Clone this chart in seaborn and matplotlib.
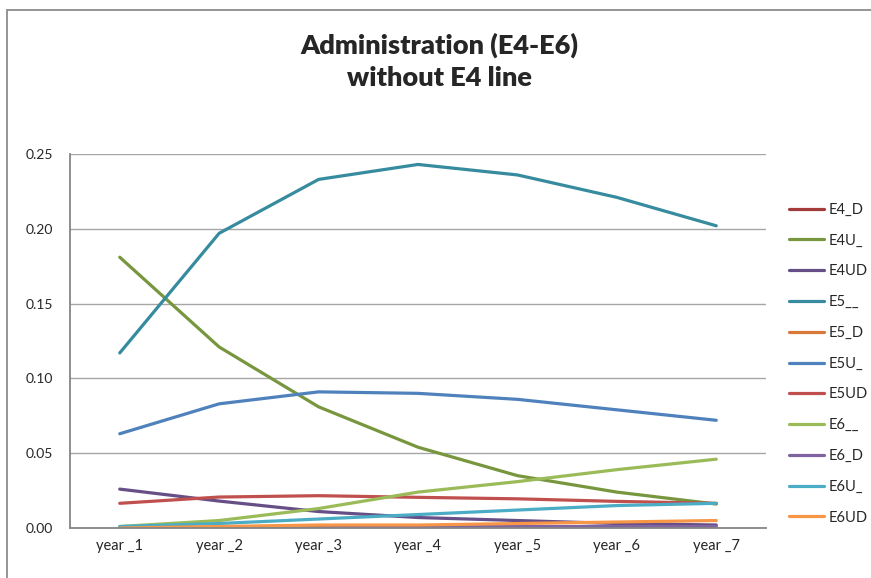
import matplotlib
matplotlib.use("Agg")
import matplotlib.pyplot as plt
import seaborn as sns
import pandas as pd
from matplotlib.patches import Rectangle

years = ["year _1", "year _2", "year _3", "year _4", "year _5", "year _6", "year _7"]

E4_D = [0.000, 0.000, 0.000, 0.000, 0.000, 0.000, 0.000]
E4U_ = [0.181, 0.121, 0.081, 0.054, 0.035, 0.024, 0.016]
E4UD = [0.026, 0.018, 0.011, 0.007, 0.005, 0.003, 0.002]
E5__ = [0.117, 0.197, 0.233, 0.243, 0.236, 0.221, 0.202]
E5_D = [0.001, 0.001, 0.001, 0.001, 0.001, 0.001, 0.001]
E5U_ = [0.063, 0.083, 0.091, 0.090, 0.086, 0.079, 0.072]
E5UD = [0.0165, 0.0207, 0.0216, 0.0205, 0.0195, 0.0178, 0.0165]
E6__ = [0.001, 0.005, 0.013, 0.024, 0.031, 0.039, 0.046]
E6_D = [0.000, 0.000, 0.000, 0.001, 0.001, 0.001, 0.001]
E6U_ = [0.001, 0.003, 0.006, 0.009, 0.012, 0.015, 0.0165]
E6UD = [0.000, 0.001, 0.002, 0.002, 0.003, 0.004, 0.005]

series_names = ["E4_D", "E4U_", "E4UD", "E5__", "E5_D", "E5U_", "E5UD",
                "E6__", "E6_D", "E6U_", "E6UD"]
series_values = [E4_D, E4U_, E4UD, E5__, E5_D, E5U_, E5UD, E6__, E6_D, E6U_, E6UD]
colors = ["#A33B3A", "#77963D", "#664E86", "#378B9F", "#D8793A", "#4F81BD",
          "#C0504D", "#9BBB59", "#8064A2", "#4BACC6", "#F79646"]

rows = []
for name, vals in zip(series_names, series_values):
    for i, v in enumerate(vals):
        rows.append({"pos": i, "year": years[i], "series": name, "value": v})
df = pd.DataFrame(rows)

sns.set_style("white")
plt.rcParams["font.family"] = ["Lato", "DejaVu Sans"]

fig = plt.figure(figsize=(8.71, 5.78), dpi=100)
ax = fig.add_axes([0.0804, 0.0865, 0.7990, 0.6471])

# Chart-area frame
fig.patches.append(Rectangle((7 / 871, -0.1), 1.2, (578 - 10) / 578 + 0.1,
                             transform=fig.transFigure, fill=False,
                             edgecolor="#8C8C8C", linewidth=1.3))

palette = dict(zip(series_names, colors))
sns.lineplot(data=df, x="pos", y="value", hue="series", hue_order=series_names,
             palette=palette, linewidth=2.3, ax=ax, legend=False, sort=False)

ax.set_xlim(-0.5, 6.5)
ax.set_ylim(0, 0.25)
ticks = [0, 0.05, 0.10, 0.15, 0.20, 0.25]
ax.set_yticks(ticks)
ax.set_yticklabels([f"{t:.2f}" for t in ticks], fontsize=10)
ax.set_xticks(range(len(years)))
ax.set_xticklabels(years, fontsize=10.5)
ax.tick_params(axis="x", length=0, pad=8)
ax.tick_params(axis="y", length=0, pad=12)
ax.set_xlabel("")
ax.set_ylabel("")
ax.grid(axis="y", color="#A6A6A6", linewidth=1.0)
ax.set_axisbelow(True)
for side in ["top", "right"]:
    ax.spines[side].set_visible(False)
for side in ["left", "bottom"]:
    ax.spines[side].set_color("#868686")
    ax.spines[side].set_linewidth(1.3)

handles = [plt.Line2D([], [], color=c, linewidth=2.3) for c in colors]
fig.legend(handles, series_names, loc="upper left",
           bbox_to_anchor=(783 / 871, 1 - 197 / 578), frameon=False,
           fontsize=10.5, handlelength=2.4, handletextpad=0.3,
           labelspacing=1.15, borderaxespad=0)

fig.text(0.505, 1 - 45 / 578, "Administration (E4-E6)", ha="center", va="center",
         fontsize=19.5, fontweight="heavy")
fig.text(0.505, 1 - 78 / 578, "without E4 line", ha="center", va="center",
         fontsize=19.5, fontweight="heavy")

fig.savefig("out.png", dpi=100)
